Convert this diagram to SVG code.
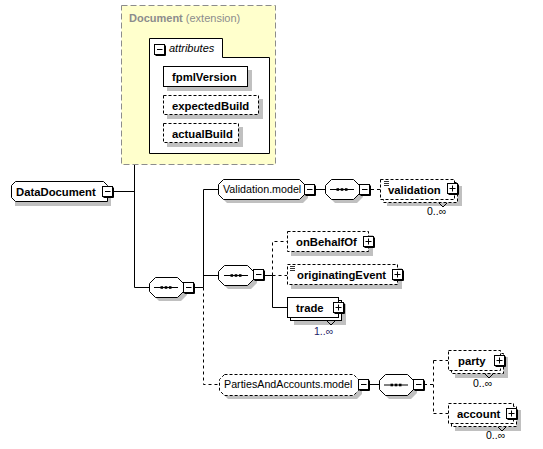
<svg xmlns="http://www.w3.org/2000/svg" xmlns:xlink="http://www.w3.org/1999/xlink" width="543" height="449" viewBox="0 0 543 449">
<style>
text{font-family:"Liberation Sans",Arial,sans-serif;fill:#000}
.b{font-weight:bold;font-size:11.3px}
.n{font-size:10.7px}
.m{font-size:10.5px}
.box{fill:#fff;stroke:#000;stroke-width:1}
.dbox{fill:#fff;stroke:#000;stroke-width:1;stroke-dasharray:3,2}
.sh{fill:#c0c0c0;stroke:none}
.c{fill:none;stroke:#000;stroke-width:1}
.cd{fill:none;stroke:#000;stroke-width:1;stroke-dasharray:3,3}
</style>
<defs>
<g id="minus"><rect x="0.5" y="0.5" width="10" height="10" fill="#fff" stroke="#000"/><path d="M11.5,1.5V11.5H1.5" fill="none" stroke="#000"/><path d="M3,5.5H8.5" stroke="#000"/></g>
<g id="plus"><rect x="0.5" y="0.5" width="10" height="10" fill="#fff" stroke="#000"/><path d="M11.5,1.5V11.5H1.5" fill="none" stroke="#000"/><path d="M2.5,5.5H8.5M5.5,2.5V8.5" stroke="#000"/></g>
<g id="seqicon"><path d="M-12,0.5H12" stroke="#000"/><rect x="-5.5" y="-0.8" width="2.6" height="2.6" fill="#000"/><rect x="-1.3" y="-0.8" width="2.6" height="2.6" fill="#000"/><rect x="2.9" y="-0.8" width="2.6" height="2.6" fill="#000"/></g>
<g id="doc"><path d="M0,0.5H5M0,2.5H5M0,4.5H5" stroke="#000" stroke-width="0.8"/></g>
</defs>

<g id="connectors">
<path class="c" d="M113,191.5H134.5M134.5,96.5V287.5M134.5,96.5H149M134.5,287.5H149"/>
<path class="c" d="M194,287.5H203.5M203.5,189.5V287.5M203.5,189.5H218M203.5,275.5H218"/>
<path class="cd" d="M203.5,287.5V384.5H219"/>
<path class="c" d="M316,189.5H325"/>
<path class="cd" d="M371,189.5H380"/>
<path class="c" d="M264,275.5H272.5"/>
<path class="cd" d="M272.5,275.5V241.5H287M272.5,275.5H287"/>
<path class="c" d="M272.5,275.5V307.5H287"/>
<path class="c" d="M370,384.5H379"/>
<path class="cd" d="M424,384.5H433.5M433.5,360.5V413.5M433.5,360.5H448M433.5,413.5H448"/>
</g>

<g id="Document">
<rect x="121.5" y="5.5" width="154" height="159" fill="#ffffcc" stroke="#8c8c8c" stroke-dasharray="6,3"/>
<text x="129" y="22" style="font-size:11px;fill:#8c8c8c"><tspan font-weight="bold">Document</tspan> (extension)</text>
</g>

<g id="attributes">
<path class="box" d="M149.5,38.5H222.5V57.5H269.5V153.5H149.5Z"/>
<use xlink:href="#minus" x="154" y="44"/>
<text x="169" y="52" style="font-size:11px;font-style:italic">attributes</text>
</g>

<g id="fpmlVersion">
<rect class="sh" x="167" y="70" width="85" height="21"/>
<rect class="box" x="163.5" y="66.5" width="84" height="20"/>
<text class="b" x="172" y="81">fpmlVersion</text>
</g>
<g id="expectedBuild">
<rect class="sh" x="167" y="99" width="96" height="20"/>
<rect class="dbox" x="163.5" y="95.5" width="95" height="19"/>
<text class="b" x="172" y="110">expectedBuild</text>
</g>
<g id="actualBuild">
<rect class="sh" x="167" y="127" width="76" height="20"/>
<rect class="dbox" x="163.5" y="123.5" width="75" height="19"/>
<text class="b" x="172" y="138">actualBuild</text>
</g>

<g id="DataDocument">
<path class="sh" d="M19,186H111V206H15V190Z"/>
<path class="box" d="M15.5,181.5H103.5L107.5,185.5V201.5H15.5L11.5,197.5V185.5Z"/>
<text class="b" x="16" y="196">DataDocument</text>
<use xlink:href="#minus" x="102" y="186"/>
</g>

<g id="seq1">
<path class="sh" d="M159,281H181L187,287V295L181,301H159L153,295V287Z"/>
<path class="box" d="M155.5,277.5H177.5L183.5,283.5V291.5L177.5,297.5H155.5L149.5,291.5V283.5Z"/>
<use xlink:href="#seqicon" x="166" y="287"/>
<use xlink:href="#minus" x="183" y="282"/>
</g>

<g id="Validation.model">
<path class="sh" d="M227,183H303L308,188V198L303,203H227L222,198V188Z"/>
<path class="box" d="M223.5,179.5H299.5L304.5,184.5V194.5L299.5,199.5H223.5L218.5,194.5V184.5Z"/>
<text class="n" x="223" y="193">Validation.model</text>
<use xlink:href="#minus" x="304" y="184"/>
</g>

<g id="seq2">
<path class="sh" d="M335,183H357L363,189V197L357,203H335L329,197V189Z"/>
<path class="box" d="M331.5,179.5H353.5L359.5,185.5V193.5L353.5,199.5H331.5L325.5,193.5V185.5Z"/>
<use xlink:href="#seqicon" x="342" y="189"/>
<use xlink:href="#minus" x="359" y="184"/>
</g>

<g id="validation">
<rect class="sh" x="387" y="186" width="75" height="20"/>
<rect class="dbox" x="383.5" y="182.5" width="74" height="20"/>
<rect class="dbox" x="380.5" y="179.5" width="74" height="20"/>
<use xlink:href="#doc" x="384" y="181"/>
<text class="b" x="388" y="194">validation</text>
<use xlink:href="#plus" x="447" y="183"/>
<path class="c" d="M439,203L443,207L447,203"/>
<text class="m" x="427" y="215">0..∞</text>
</g>

<g id="seq3">
<path class="sh" d="M228,269H251L257,275V283L251,289H228L222,283V275Z"/>
<path class="box" d="M224.5,265.5H247.5L253.5,271.5V279.5L247.5,285.5H224.5L218.5,279.5V271.5Z"/>
<use xlink:href="#seqicon" x="236" y="275"/>
<use xlink:href="#minus" x="253" y="269"/>
</g>

<g id="onBehalfOf">
<rect class="sh" x="291" y="235" width="82" height="21"/>
<rect class="dbox" x="287.5" y="231.5" width="81" height="20"/>
<text class="b" x="296" y="246">onBehalfOf</text>
<use xlink:href="#plus" x="363" y="236"/>
</g>

<g id="originatingEvent">
<rect class="sh" x="291" y="268" width="111" height="21"/>
<rect class="dbox" x="287.5" y="264.5" width="110" height="20"/>
<use xlink:href="#doc" x="290" y="266"/>
<text class="b" x="297" y="279">originatingEvent</text>
<use xlink:href="#plus" x="392" y="269"/>
</g>

<g id="trade">
<rect class="sh" x="294" y="304" width="52" height="21"/>
<rect class="box" x="290.5" y="300.5" width="51" height="20"/>
<rect class="box" x="287.5" y="297.5" width="51" height="20"/>
<text class="b" x="296" y="312">trade</text>
<use xlink:href="#plus" x="333" y="302"/>
<path class="c" d="M327,321L331,325L335,321"/>
<text class="m" x="314" y="335" style="fill:#1a1a66">1..∞</text>
</g>

<g id="PartiesAndAccounts.model">
<path class="sh" d="M228,378H357L362,383V394L357,399H228L223,394V383Z"/>
<path class="dbox" d="M224.5,374.5H353.5L358.5,379.5V390.5L353.5,395.5H224.5L219.5,390.5V379.5Z"/>
<text class="n" x="224" y="388">PartiesAndAccounts.model</text>
<use xlink:href="#minus" x="358" y="379"/>
</g>

<g id="seq4">
<path class="sh" d="M389,378H411L417,384V393L411,399H389L383,393V384Z"/>
<path class="box" d="M385.5,374.5H407.5L413.5,380.5V389.5L407.5,395.5H385.5L379.5,389.5V380.5Z"/>
<use xlink:href="#seqicon" x="396" y="384.5"/>
<use xlink:href="#minus" x="413" y="379"/>
</g>

<g id="party">
<rect class="sh" x="455" y="357" width="53" height="21"/>
<rect class="dbox" x="451.5" y="353.5" width="52" height="20"/>
<rect class="dbox" x="448.5" y="350.5" width="52" height="20"/>
<text class="b" x="458" y="365">party</text>
<use xlink:href="#plus" x="494" y="355"/>
<path class="c" d="M485,374L489,378L493,374"/>
<text class="m" x="473" y="387">0..∞</text>
</g>

<g id="account">
<rect class="sh" x="455" y="410" width="66" height="21"/>
<rect class="dbox" x="451.5" y="406.5" width="65" height="20"/>
<rect class="dbox" x="448.5" y="403.5" width="65" height="20"/>
<text class="b" x="457" y="418">account</text>
<use xlink:href="#plus" x="506" y="408"/>
<path class="c" d="M498,427L502,431L506,427"/>
<text class="m" x="486" y="439">0..∞</text>
</g>
</svg>
